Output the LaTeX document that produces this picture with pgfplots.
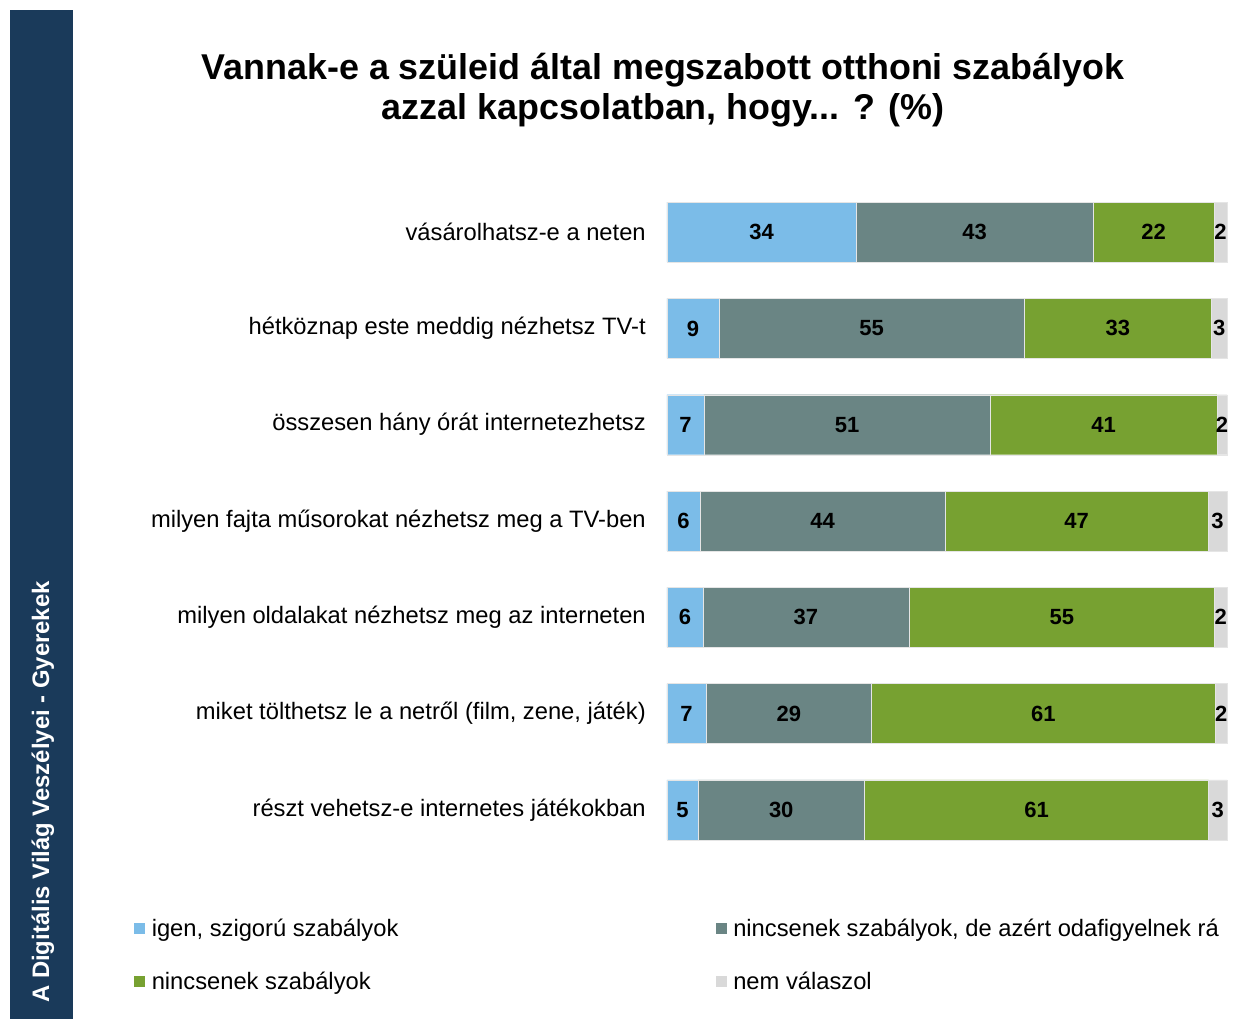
\documentclass[border=0pt]{standalone}
\usepackage{pgfplots}
\pgfplotsset{compat=1.18}
\usepackage{pgfplotstable}
\usepackage{fontspec}
\setmainfont{Liberation Sans}

\definecolor{cblue}{HTML}{7BBCE8}
\definecolor{cteal}{HTML}{6A8584}
\definecolor{cgreen}{HTML}{77A131}
\definecolor{cgray}{HTML}{D9D9D9}
\definecolor{navy}{HTML}{1A3A5A}

\pgfplotstableread{
row a b c d la lb lc ld
1 33.8 42.3 21.6 2.3 34 43 22 2
2 9.3 54.5 33.4 2.8 9 55 33 3
3 6.6 51.1 40.5 1.8 7 51 41 2
4 5.9 43.8 46.9 3.4 6 44 47 3
5 6.4 36.8 54.6 2.2 6 37 55 2
6 7.0 29.5 61.4 2.1 7 29 61 2
7 5.5 29.8 61.4 3.3 5 30 61 3
}\data

\pgfplotsset{
  common/.style={
    scale only axis, width=420pt, height=505.5pt,
    xmin=0, xmax=100, ymin=0.5, ymax=7.5, y dir=reverse,
    axis line style={draw=none}, major tick length=0pt,
    xtick=\empty, clip=false,
  },
  sq/.style={legend image code/.code={\fill[##1, draw=none] (0pt,-4.1pt) rectangle (8.25pt,4.15pt); \path (11pt,0pt);}},
  lbl/.style={draw=none, mark=none, nodes near coords, point meta=explicit symbolic,
    nodes near coords style={anchor=center, text=black, font=\bfseries\fontsize{16.5}{18}\selectfont}},
}

\begin{document}
\begin{tikzpicture}
\begin{scope}[x=0.75pt,y=-0.75pt]
\path[use as bounding box] (0,0) rectangle (1233,1019);
\fill[navy] (10,10) rectangle (73,1019);
\node[rotate=90, anchor=west, text=white, inner sep=0pt, font=\bfseries\fontsize{17.9}{20}\selectfont] at (43,1003) {A Digitális Világ Veszélyei - Gyerekek};
\node[align=center, font=\bfseries\fontsize{26.9}{30}\selectfont] at (663,90) {Vannak-e a szüleid által megszabott otthoni szabályok\\azzal kapcsolatban, hogy... ? (\%)};
\end{scope}

\begin{axis}[common,
  at={(667*0.75pt,-858*0.75pt)}, anchor=south west,
  xbar stacked, bar width=45pt,
  ytick={1,...,7},
  yticklabels={vásárolhatsz-e a neten, hétköznap este meddig nézhetsz TV-t, összesen hány órát internetezhetsz, milyen fajta műsorokat nézhetsz meg a TV-ben, milyen oldalakat nézhetsz meg az interneten, {miket tölthetsz le a netről (film, zene, játék)}, részt vehetsz-e internetes játékokban},
  yticklabel style={font=\fontsize{17.8}{20}\selectfont, inner sep=0pt, anchor=east, xshift=-15.75pt},
  legend columns=2,
  legend cell align=left,
  legend style={at={(-0.959,-0.082)}, anchor=north west, draw=none, fill=none,
    font=\fontsize{17.8}{20}\selectfont, row sep=21pt},
]
\addplot[sq, fill=cblue, draw=white!80!gray, line width=0.3pt] table[x=a, y=row] {\data};
\addlegendentry{\makebox[421pt][l]{igen, szigorú szabályok}}
\addplot[sq, fill=cteal, draw=white!80!gray, line width=0.3pt] table[x=b, y=row] {\data};
\addlegendentry{nincsenek szabályok, de azért odafigyelnek rá}
\addplot[sq, fill=cgreen, draw=white!80!gray, line width=0.3pt] table[x=c, y=row] {\data};
\addlegendentry{\makebox[421pt][l]{nincsenek szabályok}}
\addplot[sq, fill=cgray, draw=white!80!gray, line width=0.3pt] table[x=d, y=row] {\data};
\addlegendentry{nem válaszol}
\end{axis}

\begin{axis}[common,
  at={(667*0.75pt,-858*0.75pt)}, anchor=south west,
  ytick=\empty,
]
\addplot[lbl] table[x expr=\thisrow{a}/2, y=row, meta=la] {\data};
\addplot[lbl] table[x expr=\thisrow{a}+\thisrow{b}/2, y=row, meta=lb] {\data};
\addplot[lbl] table[x expr=\thisrow{a}+\thisrow{b}+\thisrow{c}/2, y=row, meta=lc] {\data};
\addplot[lbl] table[x expr=\thisrow{a}+\thisrow{b}+\thisrow{c}+\thisrow{d}/2, y=row, meta=ld] {\data};
\end{axis}
\end{tikzpicture}
\end{document}
